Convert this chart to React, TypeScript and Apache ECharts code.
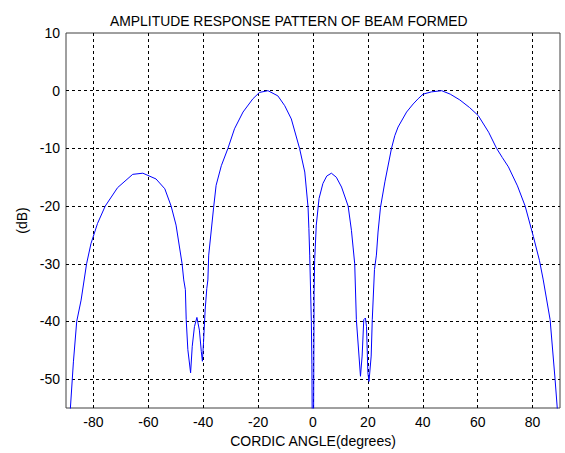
import React, { useEffect, useRef } from "react";
import * as echarts from "echarts";

const titleText = "AMPLITUDE RESPONSE PATTERN OF BEAM FORMED";
const xAxisName = "CORDIC ANGLE(degrees)";
const yAxisName = "(dB)";

const angleDeg = [
  -88.8, -88.4, -87.3, -86.1, -84.5, -82.5, -80.9, -78.5, -75.7, -71.2,
  -65.7, -62, -57.2, -54, -51.7, -49.9, -47.7, -47.1, -46.5, -46.2,
  -45.6, -44.6, -44, -43.2, -42.3, -41.4, -40.7, -40.3, -39.9, -39.3,
  -38.7, -38.3, -38, -36.2, -35.3, -33.4, -31, -28.6, -25.5, -21.9,
  -19.5, -16.4, -12.8, -10.3, -7.9, -4.9, -3, -1.8, -1.5, -1.2,
  -0.6, -0.4, 0, 0.3, 0.4, 0.6, 1.2, 2.2, 3.6, 5,
  6.7, 8.5, 10.4, 12.8, 14, 14.6, 15.2, 15.8, 17.3, 17.9,
  18.5, 19.1, 19.5, 20, 20.4, 21.2, 21.6, 22.4, 23.1, 23.7,
  24.6, 26.2, 28.6, 29.8, 31, 34.1, 36.5, 38.3, 40.1, 43.2,
  46.9, 50, 53.5, 57, 60.2, 64, 66.9, 69, 71.2, 74.5,
  77.3, 80.3, 82.5, 83.9, 86.4, 88.2, 89, 89.3,
];

const responseDb = [
  -60, -55, -47, -40, -36.3, -30, -26.5, -23, -20, -16.8,
  -14.5, -14.3, -15.3, -17, -20, -23.3, -30, -32.8, -34.5, -39.7,
  -44.9, -48.9, -44.3, -40.9, -39.3, -41.5, -45.2, -46.9, -43.7, -38,
  -34.3, -32.8, -28.5, -20.2, -16.4, -13, -10, -6.6, -3.7, -1.4,
  -0.3, 0, -0.9, -2.6, -4.9, -10, -14.1, -20.2, -23.9, -28.5,
  -40, -47.5, -80, -47.5, -35, -29.4, -23.3, -18.7, -16.1, -14.8,
  -14.3, -15, -16.7, -20, -24.2, -27.1, -30, -39.7, -49.5, -46,
  -39.7, -39.4, -40.9, -48.9, -50.4, -46, -39.7, -31, -28.5, -24.5,
  -20.2, -15.8, -10, -7.8, -6.3, -3.7, -2.3, -1.4, -0.6, -0.2,
  0, -0.6, -1.6, -2.9, -4.3, -7.2, -10, -11.6, -13.2, -16.5,
  -20, -25.3, -29.4, -32.8, -39.7, -50, -55, -60,
];

const FONT = "'Liberation Sans', Arial, Helvetica, sans-serif";

export default function App() {
  const ref = useRef<HTMLDivElement>(null);

  useEffect(() => {
    if (!ref.current) return;
    const chart = echarts.init(ref.current, null, { renderer: "svg" });
    const data = angleDeg.map((a, i) => [a, responseDb[i]]);

    chart.setOption({
      animation: false,
      backgroundColor: "#ffffff",
      title: {
        text: titleText,
        left: 105,
        top: 9,
        textStyle: {
          fontFamily: FONT,
          fontSize: 13.9,
          fontWeight: "normal",
          color: "#000",
        },
      },
      grid: {
        left: 66,
        right: 5,
        top: 33,
        bottom: 45,
        show: true,
        borderColor: "#404040",
        borderWidth: 1,
        backgroundColor: "transparent",
      },
      xAxis: {
        type: "value",
        min: -90,
        max: 90,
        splitNumber: 9,
        name: xAxisName,
        nameLocation: "middle",
        nameGap: 25,
        nameTextStyle: { fontFamily: FONT, fontSize: 14, color: "#000" },
        axisLine: { show: false },
        axisTick: { show: false },
        axisLabel: {
          fontFamily: FONT,
          fontSize: 14,
          color: "#000",
          margin: 7,
          showMinLabel: false,
          showMaxLabel: false,
        },
        splitLine: {
          show: true,
          showMinLine: false,
          showMaxLine: false,
          lineStyle: { color: "#000", width: 1, type: [3, 3] },
        },
      },
      yAxis: {
        type: "value",
        min: -55,
        max: 10,
        splitNumber: 7,
        name: yAxisName,
        nameLocation: "middle",
        nameGap: 33,
        nameRotate: 90,
        nameTextStyle: { fontFamily: FONT, fontSize: 14, color: "#000" },
        axisLine: { show: false },
        axisTick: { show: false },
        axisLabel: {
          fontFamily: FONT,
          fontSize: 14,
          color: "#000",
          margin: 6,
          showMinLabel: false,
        },
        splitLine: {
          show: true,
          showMinLine: false,
          showMaxLine: false,
          lineStyle: { color: "#000", width: 1, type: [3, 3] },
        },
      },
      series: [
        {
          type: "line",
          data,
          showSymbol: false,
          symbol: "none",
          clip: true,
          lineStyle: { color: "#0000ff", width: 1 },
        },
      ],
    });

    return () => chart.dispose();
  }, []);

  return (
    <div
      ref={ref}
      style={{ position: "fixed", left: 0, top: 0, width: 565, height: 453 }}
    />
  );
}
